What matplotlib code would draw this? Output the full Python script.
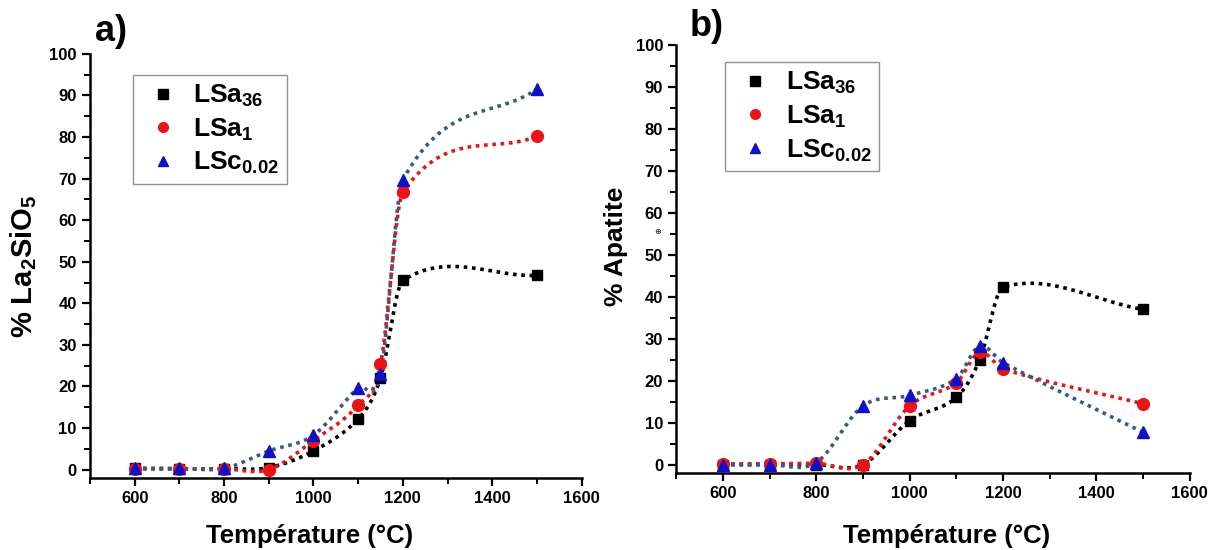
import numpy as np
import matplotlib
matplotlib.use("Agg")
import matplotlib.pyplot as plt
from matplotlib.ticker import MultipleLocator

plt.rcParams['font.family'] = ['Liberation Sans', 'DejaVu Sans']
plt.rcParams['font.weight'] = 'bold'
plt.rcParams['mathtext.fontset'] = 'custom'
plt.rcParams['mathtext.rm'] = 'Liberation Sans:bold'
plt.rcParams['mathtext.bf'] = 'Liberation Sans:bold'
plt.rcParams['mathtext.it'] = 'Liberation Sans:bold'

# temperatures (°C)
temps = [600, 700, 800, 900, 1000, 1100, 1150, 1200, 1500]

# a) % La2SiO5
la_lsa36 = [0.3, 0.2, 0.2, 0.5, 4.5, 12.2, 22.0, 45.5, 46.7]
la_lsa1 = [0.2, 0.2, 0.2, 0.0, 7.0, 15.5, 25.3, 66.7, 80.2]
la_lsc002 = [0.3, 0.3, 0.3, 4.5, 8.3, 19.7, 23.0, 69.7, 91.5]

# b) % Apatite
ap_lsa36 = [0.0, 0.0, 0.0, 0.0, 10.5, 16.0, 25.0, 42.3, 37.0]
ap_lsa1 = [0.2, 0.2, 0.3, 0.0, 14.0, 19.5, 26.8, 22.8, 14.5]
ap_lsc002 = [0.0, 0.0, 0.5, 14.0, 16.5, 20.5, 28.3, 24.3, 7.7]

labels = [r'LSa$_{36}$', r'LSa$_{1}$', r'LSc$_{0.02}$']
marker_styles = ['s', 'o', '^']
marker_colors = ['black', '#e8141a', '#1010c8']
line_colors = ['black', '#e8141a', '#3a5a80']
marker_sizes = [7, 8.5, 9]


def smooth_curve(x, y, n=50):
    # cubic hermite spline through the points, catmull-rom style slopes
    x = np.asarray(x, float)
    y = np.asarray(y, float)
    h = np.diff(x)
    m = np.zeros_like(y)
    m[0] = (y[1] - y[0]) / h[0]
    m[-1] = (y[-1] - y[-2]) / h[-1]
    m[1:-1] = (y[2:] - y[:-2]) / (x[2:] - x[:-2])
    xs, ys = [], []
    for i in range(len(x) - 1):
        t = np.linspace(0, 1, n)
        h00 = 2 * t**3 - 3 * t**2 + 1
        h10 = t**3 - 2 * t**2 + t
        h01 = -2 * t**3 + 3 * t**2
        h11 = t**3 - t**2
        xs.append(x[i] + t * h[i])
        ys.append(h00 * y[i] + h10 * h[i] * m[i] + h01 * y[i + 1] + h11 * h[i] * m[i + 1])
    return np.concatenate(xs), np.concatenate(ys)


def draw_panel(ax, series, ylabel, ysize, legend_box, xlab_pos, ylab_pos):
    for vals, lab, mk, mc, lc, ms in zip(series, labels, marker_styles,
                                         marker_colors, line_colors, marker_sizes):
        xs, ys = smooth_curve(temps, vals)
        ax.plot(xs, ys, linestyle=(0, (1, 1.3)), color=lc, linewidth=2.6, zorder=2)
        ax.plot(temps, vals, linestyle='none', marker=mk, color=mc,
                markersize=ms, label=lab, zorder=3)
    ax.set_xlim(500, 1600)
    ax.set_ylim(-2, 100)
    ax.xaxis.set_major_locator(MultipleLocator(200))
    ax.xaxis.set_minor_locator(MultipleLocator(100))
    ax.yaxis.set_major_locator(MultipleLocator(10))
    ax.yaxis.set_minor_locator(MultipleLocator(5))
    ax.spines['top'].set_visible(False)
    ax.spines['right'].set_visible(False)
    for s in ['left', 'bottom']:
        ax.spines[s].set_linewidth(1.8)
    ax.tick_params(which='major', direction='out', length=6, width=1.6, labelsize=12)
    ax.tick_params(which='minor', direction='out', length=4, width=1.4)
    for lab in ax.get_xticklabels() + ax.get_yticklabels():
        lab.set_fontweight('bold')
    ax.set_xlabel('Température (°C)', fontsize=18.5, fontweight='bold')
    ax.set_ylabel(ylabel, fontsize=ysize, fontweight='bold')
    ax.xaxis.set_label_coords(*xlab_pos)
    ax.yaxis.set_label_coords(*ylab_pos)
    leg = ax.legend(loc='upper left', bbox_to_anchor=legend_box, fontsize=19,
                    frameon=True, fancybox=False, edgecolor='#777777',
                    handletextpad=0.3, borderpad=0.3, labelspacing=0.28,
                    handlelength=1.7, borderaxespad=0)
    leg.get_frame().set_linewidth(1.0)
    for h in leg.legend_handles:
        h.set_markersize(7)


fig = plt.figure(figsize=(12.14, 5.5), dpi=100)
ax1 = fig.add_axes([0.0741, 0.131, 0.405, 0.771])
ax2 = fig.add_axes([0.557, 0.140, 0.423, 0.778])

draw_panel(ax1, [la_lsa36, la_lsa1, la_lsc002], r'% La$_2$SiO$_5$', 21,
           (0.087, 0.950), (0.447, -0.108), (-0.104, 0.5))
draw_panel(ax2, [ap_lsa36, ap_lsa1, ap_lsc002], '% Apatite', 19,
           (0.095, 0.960), (0.527, -0.119), (-0.093, 0.53))

fig.text(0.078, 0.925, 'a)', fontsize=26, fontweight='bold')
fig.text(0.568, 0.935, 'b)', fontsize=26, fontweight='bold')
fig.text(0.539, 0.575, '⊕', fontsize=6, color='#333333')

fig.savefig('out.png', dpi=100)
